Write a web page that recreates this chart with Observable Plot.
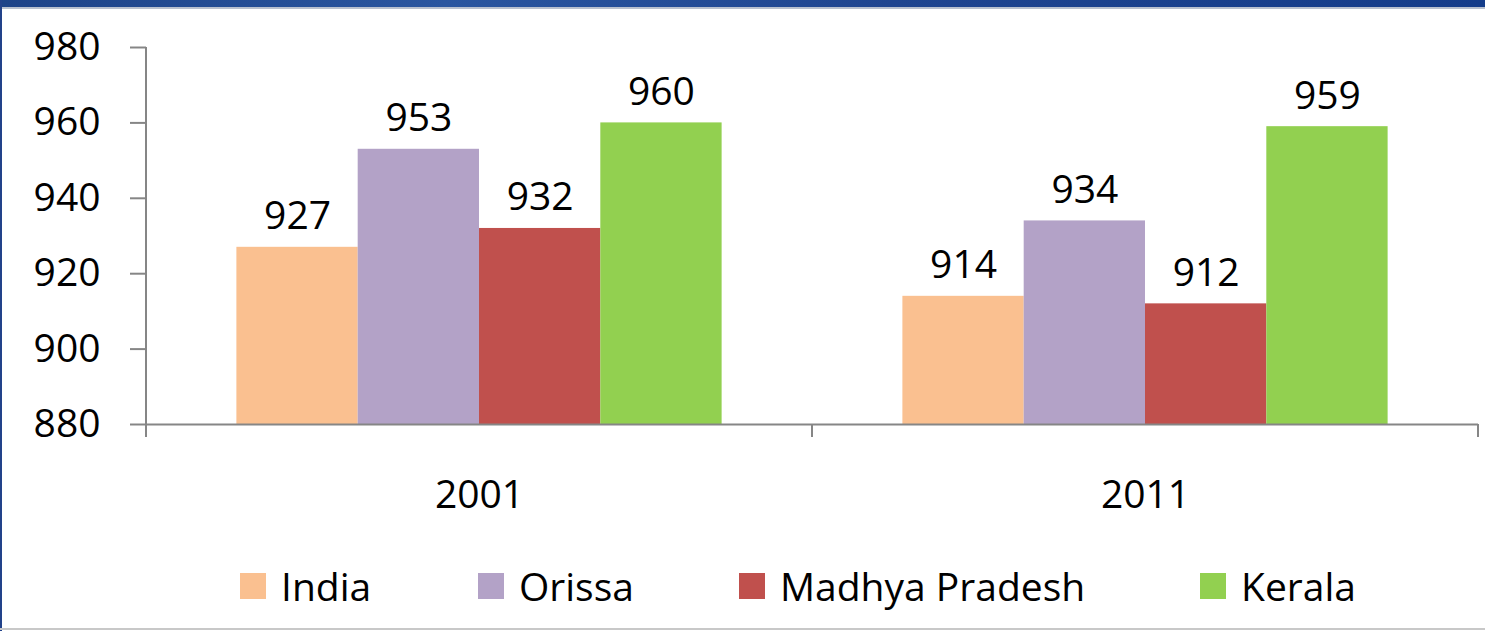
<!DOCTYPE html>
<html>
<head>
<meta charset="utf-8">
<script src="https://cdn.jsdelivr.net/npm/d3@7"></script>
<script src="https://cdn.jsdelivr.net/npm/@observablehq/plot@0.6"></script>
<style>
  html, body { margin: 0; padding: 0; background: #fff; }
  body { width: 1485px; height: 631px; overflow: hidden; position: relative; font-family: "Open Sans", sans-serif; }
  #topband { position: absolute; left: 0; top: 0; width: 1485px; height: 7px; background: linear-gradient(90deg, #1d4388 0%, #2a56a0 30%, #1f4590 60%, #143c8a 100%); border-bottom: 2px solid #b9c1cf; }
  #leftband { position: absolute; left: 0; top: 0; width: 2px; height: 631px; background: #22428a; }
  #bottomline { position: absolute; left: 0; top: 628px; width: 1485px; height: 2px; background: #c8c8c8; }
  #chart { position: absolute; left: 0; top: 0; }
  #legend { position: absolute; left: 0; top: 0; width: 1485px; height: 631px; pointer-events: none; }
  .li { position: absolute; top: 559px; display: flex; align-items: center; font-size: 39px; color: #000; }
  .sw { width: 26px; height: 26px; margin-right: 15px; }
</style>
</head>
<body>
<div id="chart"></div>
<div id="legend"></div>
<div id="topband"></div>
<div id="leftband"></div>
<div id="bottomline"></div>
<script>
const years = ["2001", "2011"];
const states = ["India", "Orissa", "Madhya Pradesh", "Kerala"];
const values2001 = [927, 953, 932, 960];
const values2011 = [914, 934, 912, 959];
const colors = ["#FAC090", "#B3A2C7", "#C0504D", "#92D050"];
const yTicks = [880, 900, 920, 940, 960, 980];
const legendX = [240, 478, 739, 1200];

const data = [];
states.forEach((s, i) => data.push({year: years[0], state: s, value: values2001[i]}));
states.forEach((s, i) => data.push({year: years[1], state: s, value: values2011[i]}));

const W = 1485, H = 540;
const plot = Plot.plot({
  width: W,
  height: H,
  marginLeft: 146,
  marginRight: 7,
  marginTop: 47,
  marginBottom: 116,
  style: {fontFamily: "'Open Sans', sans-serif", fontSize: "39px", color: "#000", background: "transparent"},
  fx: {domain: years, padding: 0, label: null},
  x: {domain: states, paddingInner: 0, paddingOuter: 0.745, round: false, axis: null},
  y: {domain: [880, 980], label: null},
  color: {domain: states, range: colors},
  marks: [
    Plot.barY(data, {fx: "year", x: "state", y1: 880, y2: "value", fill: "state"}),
    Plot.text(data, {fx: "year", x: "state", y: "value", text: d => String(d.value), lineAnchor: "bottom", dy: -18, fontSize: 39, fill: "#000"}),
    Plot.ruleY([880], {stroke: "#868686", strokeWidth: 2}),
    Plot.axisY({ticks: yTicks, tickSize: 16, tickPadding: 30, stroke: "#868686", strokeWidth: 2, strokeOpacity: 1, fontSize: 39, fill: "#000", label: null}),
    Plot.axisFx({anchor: "bottom", tickSize: 0, tickPadding: 56, fontSize: 39, fill: "#000", label: null})
  ]
});
document.getElementById("chart").appendChild(plot);

// Axis frame lines (vertical axis line and category separators) from the plot's scales
const fx = plot.scale("fx");
const ys = plot.scale("y");
const svg = d3.select(plot);
const yTop = ys.apply(980), yBot = ys.apply(880);
const bw = fx.bandwidth;
const bounds = years.map(y => fx.apply(y)).concat([fx.apply(years[years.length - 1]) + bw]);
svg.append("line").attr("x1", bounds[0]).attr("x2", bounds[0]).attr("y1", yTop).attr("y2", yBot + 13)
  .attr("stroke", "#868686").attr("stroke-width", 2);
bounds.slice(1).forEach(x => {
  svg.append("line").attr("x1", x).attr("x2", x).attr("y1", yBot).attr("y2", yBot + 13)
    .attr("stroke", "#868686").attr("stroke-width", 2);
});

// Legend
const leg = document.getElementById("legend");
states.forEach((s, i) => {
  const el = document.createElement("div");
  el.className = "li";
  el.style.left = legendX[i] + "px";
  el.innerHTML = `<div class="sw" style="background:${colors[i]}"></div><span>${s}</span>`;
  leg.appendChild(el);
});
</script>
</body>
</html>
